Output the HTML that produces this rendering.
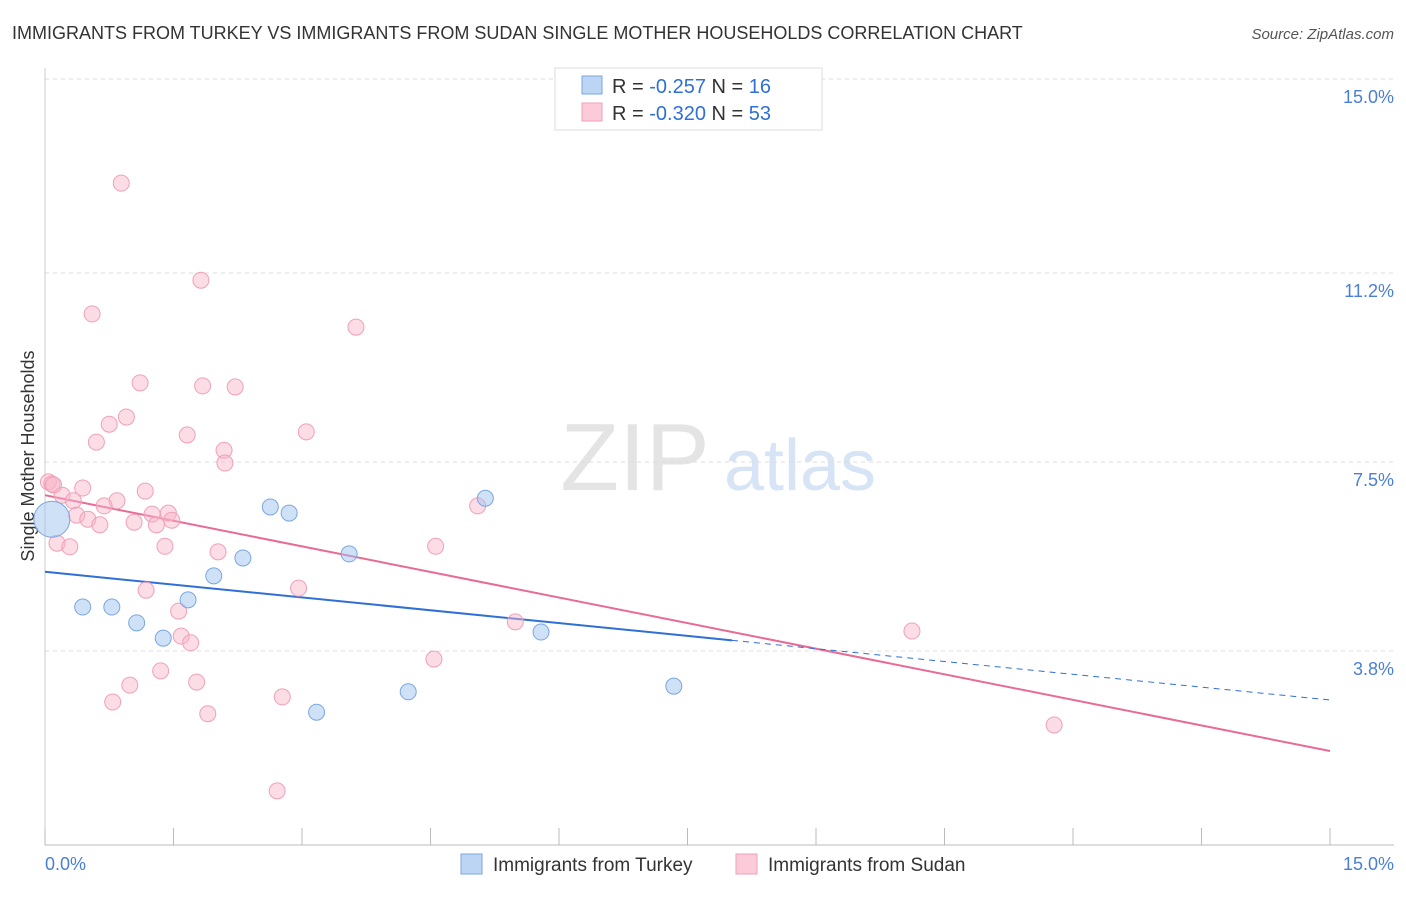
<!DOCTYPE html>
<html><head><meta charset="utf-8"><style>
body{margin:0;background:#fff;font-family:"Liberation Sans",sans-serif}
svg text{font-family:"Liberation Sans",sans-serif}
</style></head><body>
<svg id="c" width="1406" height="892">
<text x="12" y="39" font-size="18" fill="#333">IMMIGRANTS FROM TURKEY VS IMMIGRANTS FROM SUDAN SINGLE MOTHER HOUSEHOLDS CORRELATION CHART</text>
<text x="1394" y="39" font-size="15" fill="#555" text-anchor="end" font-style="italic">Source: ZipAtlas.com</text>
<text x="34" y="456" font-size="18" fill="#333" text-anchor="middle" transform="rotate(-90 34 456)">Single Mother Households</text>
<g><text x="635" y="490" font-size="96" fill="#e4e4e4" text-anchor="middle" font-family="Liberation Serif">ZIP</text><text x="800" y="490" font-size="72" fill="#d6e4f5" text-anchor="middle">atlas</text></g>
<g id="grid"></g><g id="ticks"></g><g id="lines"></g><g id="pts"></g>
<g>
<rect x="555" y="68" width="267" height="62" fill="#fff" stroke="#ddd"/>
<rect x="582" y="76" width="20" height="18" fill="#bcd5f5" stroke="#7aa7e0"/>
<text x="612" y="93" font-size="20" fill="#333">R = <tspan fill="#2f6fd6">-0.257</tspan>   N = <tspan fill="#2f6fd6"> 16</tspan></text>
<rect x="582" y="103" width="20" height="18" fill="#fbcbd9" stroke="#f0a0b8"/>
<text x="612" y="120" font-size="20" fill="#333">R = <tspan fill="#2f6fd6">-0.320</tspan>   N = <tspan fill="#2f6fd6">53</tspan></text>
</g>
<g>
<rect x="461" y="854" width="21" height="20" fill="#bcd5f5" stroke="#7aa7e0"/>
<text x="493" y="871" font-size="19" fill="#333">Immigrants from Turkey</text>
<rect x="736" y="854" width="21" height="20" fill="#fbcbd9" stroke="#f0a0b8"/>
<text x="768" y="871" font-size="19" fill="#333">Immigrants from Sudan</text>
</g>
<text x="45" y="870" font-size="18" fill="#4a7fd6">0.0%</text>
<text x="1394" y="870" font-size="18" fill="#4a7fd6" text-anchor="end">15.0%</text>
</svg>
<script>
const yTicks=[15.0,11.2,7.5,3.8];
const yTickLabels=["15.0%","11.2%","7.5%","3.8%"];
const turkeyX=[0.08,0.44,0.78,1.07,1.38,1.67,1.97,2.31,2.63,2.85,3.17,3.55,4.24,5.14,5.79,7.34];
const turkeyY=[6.38,4.66,4.66,4.35,4.05,4.80,5.27,5.62,6.62,6.50,2.60,5.70,3.00,6.79,4.17,3.11];
const sudanX=[0.89,1.82,0.55,3.63,1.11,1.84,2.22,0.95,0.75,0.60,1.66,3.05,2.09,2.10,0.04,0.08,0.44,0.20,1.17,0.84,0.33,0.69,0.37,0.50,0.64,1.25,1.44,1.48,1.04,1.30,5.05,0.14,0.29,1.40,2.02,4.56,1.18,2.96,1.56,5.49,10.12,1.59,1.70,1.35,4.54,0.99,1.77,0.79,2.77,1.90,11.78,2.71,0.10];
const sudanY=[12.96,11.06,10.40,10.14,9.05,8.99,8.97,8.38,8.24,7.89,8.03,8.09,7.73,7.48,7.11,7.07,6.99,6.85,6.93,6.74,6.74,6.64,6.46,6.38,6.27,6.48,6.50,6.36,6.32,6.27,6.64,5.91,5.84,5.85,5.74,5.85,4.99,5.03,4.58,4.37,4.19,4.09,3.96,3.41,3.64,3.13,3.19,2.80,2.90,2.57,2.35,1.06,7.05];
const turkeyTrend=[5.35,2.84];
const sudanTrend=[6.85,1.84];
const turkeySolidEnd=8.02;
const NS="http://www.w3.org/2000/svg";
const X=v=>45+v*(1285/15), Y=v=>845-v*(766/15);
function mk(p,t,a){const e=document.createElementNS(NS,t);for(const k in a)e.setAttribute(k,a[k]);p.appendChild(e);return e;}
const grid=document.getElementById('grid'),ticks=document.getElementById('ticks'),lines=document.getElementById('lines'),pts=document.getElementById('pts');
yTicks.forEach((t,i)=>{
 const l=mk(grid,'line',{x1:45,x2:1394,y1:Y(t),y2:Y(t),stroke:'#ddd','stroke-dasharray':'4,4'});
 
 
 const tx=mk(grid,'text',{x:1394,y:Y(t)+24,'font-size':18,fill:'#4a7fd6','text-anchor':'end'});
 tx.textContent=yTickLabels[i];
 
 
});
const ax=mk(ticks,'line',{x1:45,x2:1394,y1:845,y2:845,stroke:'#bbb'});


const ay=mk(ticks,'line',{x1:45,x2:45,y1:68,y2:845,stroke:'#ccc'});


for(let i=0;i<=10;i++){const tk=mk(ticks,'line',{x1:X(i*1.5),x2:X(i*1.5),y1:828,y2:845,stroke:'#bbb'});
 
 }
function trend(tr,end,col,name){
 const f=x=>tr[0]+(tr[1]-tr[0])*x/15;
 const a=mk(lines,'line',{x1:X(0),y1:Y(f(0)),x2:X(end),y2:Y(f(end)),stroke:col,'stroke-width':2});
 
 
 if(end<15){const b=mk(lines,'line',{x1:X(end),y1:Y(f(end)),x2:X(15),y2:Y(f(15)),stroke:col,'stroke-width':1,'stroke-dasharray':'6,5'});
 
 }
}
sudanX.forEach((x,i)=>{const c=mk(pts,'circle',{cx:X(x),cy:Y(sudanY[i]),r:8,fill:'rgba(248,180,200,0.45)',stroke:'#f0a0b8','stroke-width':1});
 
 });
turkeyX.forEach((x,i)=>{const c=mk(pts,'circle',{cx:X(x),cy:Y(turkeyY[i]),r:i==0?18:8,fill:'rgba(160,196,240,0.5)',stroke:'#7aa7e0','stroke-width':1});
 
 });
trend(sudanTrend,15,'#e86a95','sudan-trendline');
trend(turkeyTrend,turkeySolidEnd,'#2f6fd6','turkey-trendline');
</script>
</body></html>
